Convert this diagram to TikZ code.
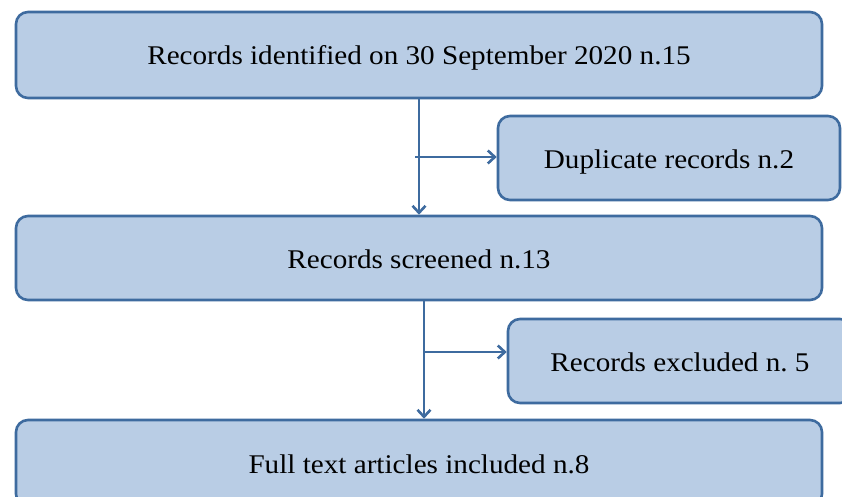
\documentclass[tikz,border=0pt]{standalone}
\usepackage{fontspec}
\setmainfont[FakeStretch=1.08]{Liberation Serif}
\frenchspacing
\usetikzlibrary{arrows.meta}
\definecolor{boxfill}{HTML}{B9CDE5}
\definecolor{boxline}{HTML}{3E6B9F}
\begin{document}
\begin{tikzpicture}[x=1pt,y=-1pt,
  box/.style={draw=boxline,fill=boxfill,line width=2.6pt,rounded corners=12pt,
    inner sep=0pt,text height=22pt,text depth=2pt,font=\fontsize{27}{30}\selectfont,text=black},
  arr/.style={draw=boxline,line width=2.6pt,-{Straight Barb[length=7pt,width=13pt,line width=2.6pt]}}]
\useasboundingbox (0,0) rectangle (842,497);
\fill[white] (0,0) rectangle (842,497);
\node[box,minimum width=806pt,minimum height=86pt] (ident) at (419,55) {Records identified on 30 September 2020 n.15};
\node[box,minimum width=342pt,minimum height=84pt] (dup) at (669,158) {Duplicate records n.2};
\node[box,minimum width=806pt,minimum height=84pt] (scr) at (419,258) {Records screened n.13};
\node[box,minimum width=344pt,minimum height=84pt] (excl) at (680,361) {Records excluded n. 5};
\node[box,minimum width=806pt,minimum height=86pt] (full) at (419,463) {Full text articles included n.8};
\coordinate (v1) at (419,0);
\coordinate (v2) at (424,0);
\coordinate (b1) at (415,157);
\coordinate (b2) at (424,352);
\draw[arr] (ident.south -| v1) -- (scr.north -| v1);
\draw[arr] (b1) -- (b1 -| dup.west);
\draw[arr] (scr.south -| v2) -- (full.north -| v2);
\draw[arr] (b2) -- (b2 -| excl.west);
\end{tikzpicture}
\end{document}
